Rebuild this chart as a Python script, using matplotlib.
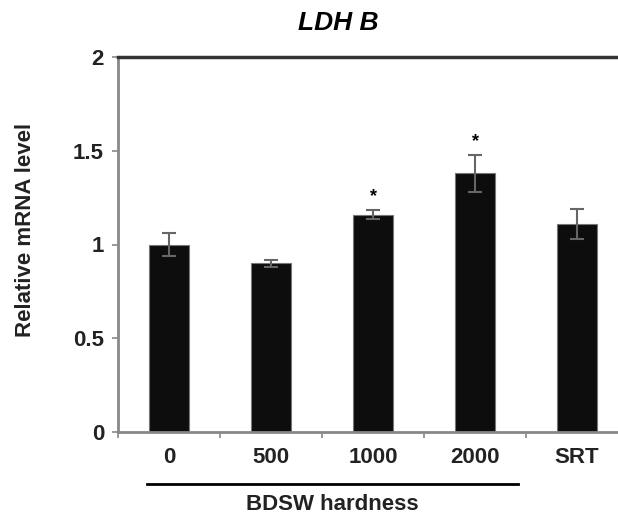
import matplotlib.pyplot as plt
import matplotlib.transforms as mtransforms

plt.rcParams['font.family'] = ['Liberation Sans', 'DejaVu Sans']

groups = ['0', '500', '1000', '2000', 'SRT']
values = [1.0, 0.90, 1.16, 1.38, 1.11]
errors = [0.06, 0.02, 0.025, 0.10, 0.08]
signif = [False, False, True, True, False]

fig = plt.figure(figsize=(6.18, 5.16), dpi=100)
ax = fig.add_axes([118 / 618, 84 / 516, 510 / 618, 375 / 516])

x = list(range(len(groups)))
ax.bar(x, values, width=0.4, color='#0d0d0d', edgecolor='#777777', linewidth=0.8,
       yerr=errors, error_kw=dict(ecolor='#666666', elinewidth=1.5, capsize=5, capthick=1.5))

# asterisks
for xi, v, e, s in zip(x, values, errors, signif):
    if s:
        ax.text(xi, v + e + 0.025, '*', ha='center', va='bottom', fontsize=13, fontweight='bold')

ax.set_xlim(-0.5, 4.5)
ax.set_ylim(0, 2)
ax.set_yticks([0, 0.5, 1, 1.5, 2])
ax.set_yticklabels(['0', '0.5', '1', '1.5', '2'], fontsize=16, fontweight='bold')
ax.set_xticks([-0.5, 0.5, 1.5, 2.5, 3.5])
ax.set_xticklabels([])
ax.tick_params(axis='both', direction='out', length=4, width=1.2, colors='#888888')
ax.tick_params(axis='y', labelcolor='#222222', pad=6)

trans = mtransforms.blended_transform_factory(ax.transData, ax.transAxes)
for xi, g in zip(x, groups):
    ax.text(xi, -0.04, g, ha='center', va='top', fontsize=16, fontweight='bold',
            color='#222222', transform=trans)

ax.spines['left'].set_color('#888888')
ax.spines['left'].set_linewidth(2)
ax.spines['bottom'].set_color('#888888')
ax.spines['bottom'].set_linewidth(2)
ax.spines['top'].set_color('#333333')
ax.spines['top'].set_linewidth(2.5)
ax.spines['right'].set_visible(False)

ax.set_ylabel('Relative mRNA level', fontsize=16, fontweight='bold', color='#222222',
              va='center')
ax.yaxis.set_label_coords(-0.182, 0.54)

# bracket under hardness groups
ax.plot([-0.22, 3.42], [-0.139, -0.139], color='black', linewidth=2, transform=trans, clip_on=False)
ax.text(1.6, -0.165, 'BDSW hardness', ha='center', va='top', fontsize=16, fontweight='bold',
        color='#222222', transform=trans)

fig.text(338 / 618, 1 - 23 / 516, 'LDH B', ha='center', va='center', fontsize=19,
         fontweight='bold', fontstyle='italic')

fig.savefig('out.png', dpi=100)
